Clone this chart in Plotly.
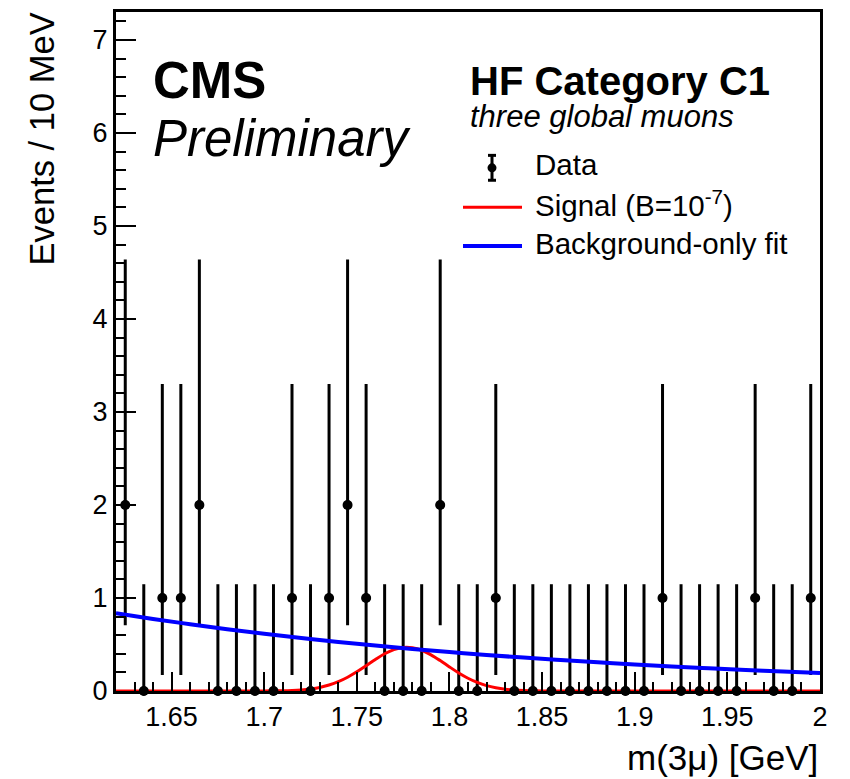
import plotly.graph_objects as go

# ---------------- data ----------------
bin_centers = [round(1.625 + 0.01 * i, 3) for i in range(38)]
counts = [2, 0, 1, 1, 2, 0, 0, 0, 0, 1, 0, 1, 2, 1, 0, 0, 0, 2, 0, 0,
          1, 0, 0, 0, 0, 0, 0, 0, 0, 1, 0, 0, 0, 0, 1, 0, 0, 1]
# Poisson (Garwood) asymmetric errors per count value
err_up_by_n = {0: 1.148, 1: 2.300, 2: 2.638}
err_dn_by_n = {0: 0.0, 1: 0.827, 2: 1.292}
err_up = [err_up_by_n[n] for n in counts]
err_dn = [err_dn_by_n[n] for n in counts]

# Signal curve (B=1e-7)
sig_x = [1.62, 1.70, 1.705, 1.71, 1.715, 1.72, 1.725, 1.73, 1.735, 1.74, 1.745,
         1.75, 1.755, 1.76, 1.765, 1.77, 1.775, 1.78, 1.785, 1.79, 1.795, 1.80,
         1.805, 1.81, 1.815, 1.82, 1.825, 1.83, 1.835, 1.84, 1.845, 1.85, 1.86, 2.0]
sig_y = [0.0, 0.001, 0.002, 0.003, 0.006, 0.012, 0.022, 0.038, 0.064, 0.10, 0.148,
         0.206, 0.272, 0.339, 0.40, 0.445, 0.468, 0.465, 0.438, 0.389, 0.327, 0.259,
         0.194, 0.137, 0.092, 0.058, 0.035, 0.019, 0.010, 0.005, 0.002, 0.001, 0.0, 0.0]

# Background-only fit, values
bkg_x = [1.62, 1.64, 1.66, 1.68, 1.70, 1.72, 1.74, 1.76, 1.78, 1.80,
         1.82, 1.84, 1.86, 1.88, 1.90, 1.92, 1.94, 1.96, 1.98, 2.00]
bkg_y = [0.837, 0.775, 0.718, 0.665, 0.615, 0.570, 0.528, 0.489, 0.452, 0.419,
         0.388, 0.359, 0.333, 0.308, 0.285, 0.264, 0.245, 0.227, 0.210, 0.194]

x_tick_vals = [1.65, 1.7, 1.75, 1.8, 1.85, 1.9, 1.95, 2.0]
x_tick_text = ["1.65", "1.7", "1.75", "1.8", "1.85", "1.9", "1.95", "2"]
y_tick_vals = [0, 1, 2, 3, 4, 5, 6, 7]

FONT = "Liberation Sans, Arial, Helvetica, sans-serif"

# ---------------- layout geometry (pixels) ----------------
W, H = 850, 779
L, R, T, B = 116, 820, 9, 691


def px(xp):
    return (xp - L) / (R - L)


def py(yp):
    return (B - yp) / (B - T)


fig = go.Figure()

fig.add_trace(go.Scatter(
    x=bin_centers, y=counts, mode="markers",
    marker=dict(color="black", size=9),
    error_y=dict(type="data", symmetric=False, array=err_up, arrayminus=err_dn,
                 color="black", thickness=3, width=0),
    cliponaxis=False, showlegend=False, name="Data"))

fig.add_trace(go.Scatter(
    x=sig_x, y=sig_y, mode="lines", line=dict(color="#ff0000", width=3, shape="spline"),
    showlegend=False, name="Signal"))

fig.add_trace(go.Scatter(
    x=bkg_x, y=bkg_y, mode="lines", line=dict(color="#0000ff", width=4, shape="spline"),
    showlegend=False, name="Background-only fit"))

fig.add_trace(go.Scatter(
    x=bin_centers, y=counts, mode="markers",
    marker=dict(color="black", size=10),
    cliponaxis=False, showlegend=False, hoverinfo="skip"))

annotations = []


def ann(text, xl, yc, size, xanchor="left"):
    annotations.append(dict(
        text=text, x=px(xl), y=py(yc), xref="paper", yref="paper",
        xanchor=xanchor, yanchor="middle", showarrow=False,
        font=dict(family=FONT, size=size, color="black")))


ann("<b>CMS</b>", 151, 78, 51)
ann("<i>Preliminary</i>", 151, 136, 51)
ann("<b>HF Category C1</b>", 468, 78, 40)
ann("<i>three global muons</i>", 468, 114, 31)
ann("Data", 533, 162, 29.5)
ann("Signal (B=10<sup>-7</sup>)", 533, 201, 29.5)
ann("Background-only fit", 533, 242, 29.5)

# axis titles
annotations.append(dict(
    text="m(3\u03bc) [GeV]", x=px(820), y=py(758), xref="paper", yref="paper",
    xanchor="right", yanchor="middle", showarrow=False,
    font=dict(family=FONT, size=35, color="black")))
annotations.append(dict(
    text="Events / 10 MeV", x=px(42), y=py(137), xref="paper", yref="paper",
    xanchor="center", yanchor="middle", showarrow=False, textangle=-90,
    font=dict(family=FONT, size=34.5, color="black")))

shapes = []
# legend keys
shapes.append(dict(type="line", xref="paper", yref="paper",
                   x0=px(463), x1=px(522), y0=py(205), y1=py(205),
                   line=dict(color="#ff0000", width=3)))
shapes.append(dict(type="line", xref="paper", yref="paper",
                   x0=px(463), x1=px(522), y0=py(244), y1=py(244),
                   line=dict(color="#0000ff", width=4)))
shapes.append(dict(type="line", xref="paper", yref="paper",
                   x0=px(492), x1=px(492), y0=py(153), y1=py(178),
                   line=dict(color="black", width=3)))
for yy in (153, 178):
    shapes.append(dict(type="line", xref="paper", yref="paper",
                       x0=px(488), x1=px(496), y0=py(yy), y1=py(yy),
                       line=dict(color="black", width=3)))
shapes.append(dict(type="circle", xref="paper", yref="paper",
                   x0=px(487.5), x1=px(496.5), y0=py(161), y1=py(170),
                   fillcolor="black", line=dict(color="black", width=0)))

fig.update_layout(
    width=W, height=H,
    margin=dict(l=L, r=W - R, t=T, b=H - B, pad=0),
    paper_bgcolor="white", plot_bgcolor="white",
    font=dict(family=FONT, color="black"),
    annotations=annotations, shapes=shapes,
    showlegend=False,
)

fig.update_xaxes(
    range=[1.62, 2.0], tickvals=x_tick_vals, ticktext=x_tick_text,
    ticks="inside", ticklen=19, tickwidth=2, tickcolor="black",
    tickfont=dict(family=FONT, size=27, color="black"),
    minor=dict(dtick=0.01, tick0=1.62, ticks="inside", ticklen=9, tickwidth=2, tickcolor="black", showgrid=False),
    showline=True, linecolor="black", linewidth=3, mirror=True,
    showgrid=False, zeroline=False,
)
fig.update_yaxes(
    range=[0, 7.3], tickvals=y_tick_vals,
    ticks="inside", ticklen=20, tickwidth=2, tickcolor="black",
    tickfont=dict(family=FONT, size=27, color="black"),
    minor=dict(dtick=0.2, tick0=0, ticks="inside", ticklen=10, tickwidth=2, tickcolor="black", showgrid=False),
    showline=True, linecolor="black", linewidth=3, mirror=True,
    showgrid=False, zeroline=False,
)

fig.write_html("out.html")
